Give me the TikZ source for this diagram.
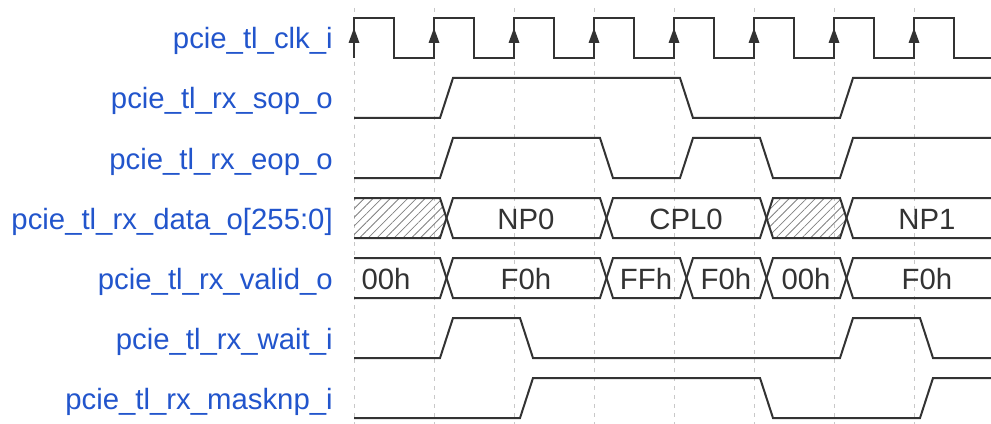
\documentclass[tikz,border=0pt]{standalone}
\usepackage{fontspec}
\setmainfont{Liberation Sans}
\usetikzlibrary{patterns.meta}
\definecolor{lblue}{RGB}{34,85,204}
\definecolor{wave}{RGB}{51,51,51}
\definecolor{gridc}{RGB}{200,200,200}
\begin{document}
\begin{tikzpicture}[x=0.75pt,y=-0.75pt,
  wavec/.style={draw=wave, line width=1.5pt, line join=miter},
  gridl/.style={draw=gridc, line width=0.75pt, dash pattern=on 3pt off 3.75pt},
  lbl/.style={anchor=base east, text=lblue, font=\fontsize{22}{24}\selectfont, inner sep=0pt},
  bustext/.style={anchor=base, text=wave, font=\fontsize{22}{24}\selectfont, inner sep=0pt},
  hatch/.style={pattern={Lines[angle=45,distance=4.6pt,line width=0.6pt]}, pattern color=gray}
]
\useasboundingbox (0,0) rectangle (991,424);
% grid
\foreach \x in {354,434,...,914} \draw[gridl] (\x,8) -- (\x,424);
% labels
\node[lbl] (l1) at (333,49) {pcie\_tl\_clk\_i};
\node[lbl] (l2) at (333,109) {pcie\_tl\_rx\_sop\_o};
\node[lbl] (l3) at (333,169) {pcie\_tl\_rx\_eop\_o};
\node[lbl] (l4) at (333,229) {pcie\_tl\_rx\_data\_o[255:0]};
\node[lbl] (l5) at (333,289) {pcie\_tl\_rx\_valid\_o};
\node[lbl] (l6) at (333,349) {pcie\_tl\_rx\_wait\_i};
\node[lbl] (l7) at (333,409) {pcie\_tl\_rx\_masknp\_i};
% clock
\draw[wavec] (354,58) \foreach \x in {354,434,...,914} { -- (\x,58) -- (\x,18) -- ({\x+40},18) -- ({\x+40},58) } -- (991,58);
\foreach \x in {354,434,...,914} \fill[wave] ({\x-5.5},43) -- (\x,28) -- ({\x+5.5},43) -- cycle;
% sop
\draw[wavec] (354,118) -- (440,118) -- (453,78) -- (680,78) -- (693,118) -- (840,118) -- (853,78) -- (991,78);
% eop
\draw[wavec] (354,178) -- (440,178) -- (453,138) -- (600,138) -- (613,178) -- (680,178) -- (693,138) -- (760,138) -- (773,178) -- (840,178) -- (853,138) -- (991,138);
% data bus
\fill[hatch] (354,198) -- (440,198) -- (446.5,218) -- (440,238) -- (354,238) -- cycle;
\draw[wavec] (354,198) -- (440,198) -- (446.5,218) -- (440,238) -- (354,238);
\draw[wavec] (446.5,218) -- (453,198) -- (600,198) -- (606.5,218) -- (600,238) -- (453,238) -- cycle;
\draw[wavec] (606.5,218) -- (613,198) -- (760,198) -- (766.5,218) -- (760,238) -- (613,238) -- cycle;
\fill[hatch] (766.5,218) -- (773,198) -- (840,198) -- (846.5,218) -- (840,238) -- (773,238) -- cycle;
\draw[wavec] (766.5,218) -- (773,198) -- (840,198) -- (846.5,218) -- (840,238) -- (773,238) -- cycle;
\draw[wavec] (991,198) -- (853,198) -- (846.5,218) -- (853,238) -- (991,238);
\node[bustext] (d1) at (526,229) {NP0};
\node[bustext] (d2) at (686,229) {CPL0};
\node[bustext] (d3) at (927,229) {NP1};
% valid bus
\draw[wavec] (354,258) -- (440,258) -- (446.5,278) -- (440,298) -- (354,298);
\draw[wavec] (446.5,278) -- (453,258) -- (600,258) -- (606.5,278) -- (600,298) -- (453,298) -- cycle;
\draw[wavec] (606.5,278) -- (613,258) -- (680,258) -- (686.5,278) -- (680,298) -- (613,298) -- cycle;
\draw[wavec] (686.5,278) -- (693,258) -- (760,258) -- (766.5,278) -- (760,298) -- (693,298) -- cycle;
\draw[wavec] (766.5,278) -- (773,258) -- (840,258) -- (846.5,278) -- (840,298) -- (773,298) -- cycle;
\draw[wavec] (991,258) -- (853,258) -- (846.5,278) -- (853,298) -- (991,298);
\node[bustext] (v1) at (386,289) {00h};
\node[bustext] (v2) at (526,289) {F0h};
\node[bustext] (v3) at (646,289) {FFh};
\node[bustext] (v4) at (726,289) {F0h};
\node[bustext] (v5) at (806,289) {00h};
\node[bustext] (v6) at (927,289) {F0h};
% wait
\draw[wavec] (354,358) -- (440,358) -- (453,318) -- (520,318) -- (533,358) -- (840,358) -- (853,318) -- (920,318) -- (933,358) -- (991,358);
% masknp
\draw[wavec] (354,418) -- (520,418) -- (533,378) -- (760,378) -- (773,418) -- (920,418) -- (933,378) -- (991,378);
\end{tikzpicture}
\end{document}
